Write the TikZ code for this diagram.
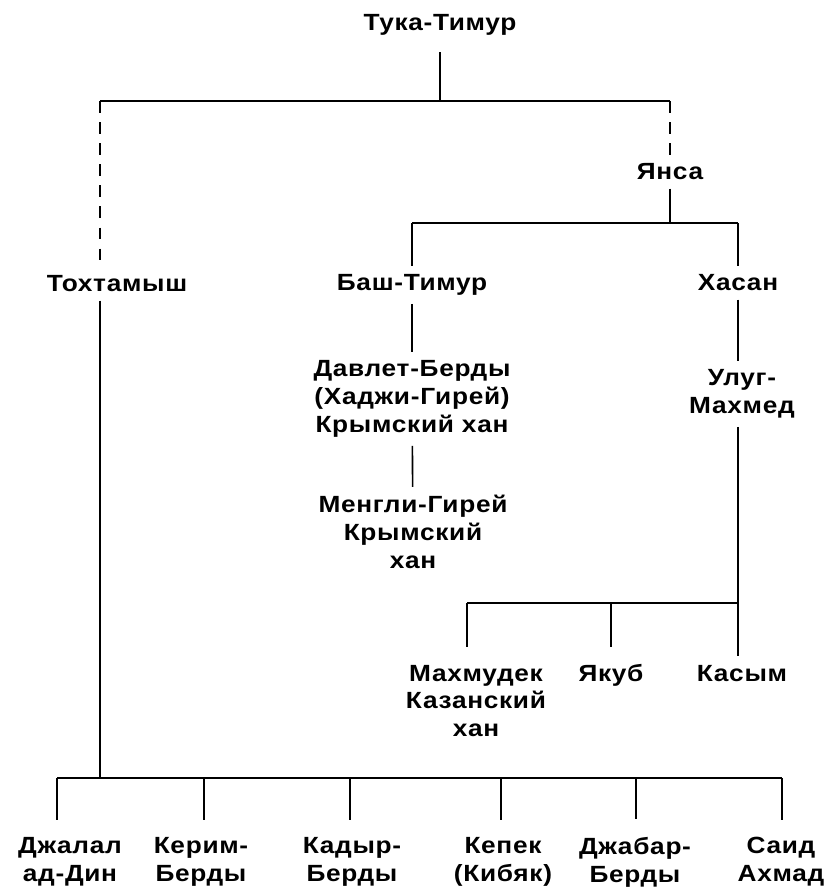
\documentclass[tikz,border=0pt]{standalone}
\usepackage{fontspec}
\setmainfont{Liberation Sans}[FakeStretch=1.12, LetterSpace=3]
\usepackage{tikz}
\tikzset{
    person/.style={font=\bfseries\fontsize{20}{23.8}\selectfont, align=center,
      inner xsep=0pt, inner ysep=7pt},
    link/.style={line width=1.4pt},
    doubt/.style={line width=1.8pt, dash pattern=on 10pt off 8pt},
    drop/.style={shorten >=#1},
    drop/.default=8pt
}
\begin{document}
\begin{tikzpicture}[x=0.03cm, y=-0.03cm]
    \useasboundingbox (0,0) rectangle (828,888);
    \node[person] (tuka) at (440,25) {Тука-Тимур};
    \node[person] (tokh) at (117,284) {Тохтамыш};
    \node[person] (yansa) at (670,172) {Янса};
    \node[person] (bash) at (412,285) {Баш-Тимур};
    \node[person] (hasan) at (738,283) {Хасан};
    \node[person] (davlet) at (412,399) {Давлет-Берды\\(Хаджи-Гирей)\\Крымский хан};
    \node[person] (mengli) at (413,532) {Менгли-Гирей\\Крымский\\хан};
    \node[person] (ulug) at (742,394) {Улуг-\\Махмед};
    \node[person] (mahm) at (476,701) {Махмудек\\Казанский\\хан};
    \node[person, anchor=base] (yakub) at (611,681) {Якуб};
    \node[person, anchor=base] (kasym) at (742,681) {Касым};
    \node[person] (jalal) at (70,862) {Джалал\\ад-Дин};
    \node[person] (kerim) at (201,862) {Керим-\\Берды};
    \node[person] (kadyr) at (352,862) {Кадыр-\\Берды};
    \node[person] (kepek) at (503,862) {Кепек\\(Кибяк)};
    \node[person] (jabar) at (635,862) {Джабар-\\Берды};
    \node[person] (said) at (781,862) {Саид\\Ахмад};

    \coordinate (top) at (440,101);
    \coordinate (topl) at (100,101);
    \coordinate (topr) at (670,101);
    \coordinate (mid) at (670,223);
    \coordinate (midl) at (412,223);
    \coordinate (midr) at (738,223);
    \coordinate (low) at (738,603);
    \coordinate (lowl) at (467,603);
    \coordinate (lowm) at (611,603);
    \coordinate (bot) at (100,778);

    \draw[link, shorten <=7pt] (tuka) -- (top);
    \draw[link] (topl) -- (topr);
    \draw[doubt] (topl) -- (topl |- tokh.north);
    \draw[doubt] (topr) -- (yansa);
    \draw[link] (yansa) -- (mid);
    \draw[link] (midl) -- (midr);
    \draw[link] (midl) -- (bash);
    \draw[link] (midr) -- (hasan);
    \draw[link] (bash) -- (davlet);
    \draw[link] (davlet) -- (mengli);
    \draw[link] (hasan.south) -- (hasan.south |- ulug.north);
    \draw[link] (ulug.south -| low) -- (low) -- (low |- kasym.north);
    \draw[link] (lowl) -- (low);
    \draw[link, drop] (lowl) -- (lowl |- mahm.north);
    \draw[link, drop] (lowm) -- (lowm |- kasym.north);
    \draw[link] (tokh.south -| bot) -- (bot);
    \draw[link] (57,778) coordinate (botl) -- (782,778) coordinate (botr);
    \foreach \k/\x in {jalal/57, kerim/204, kadyr/350, kepek/501, jabar/636, said/782} {
      \coordinate (t) at (\x,778);
      \draw[link, drop] (t) -- (t |- \k.north);
    }
\end{tikzpicture}
\end{document}
